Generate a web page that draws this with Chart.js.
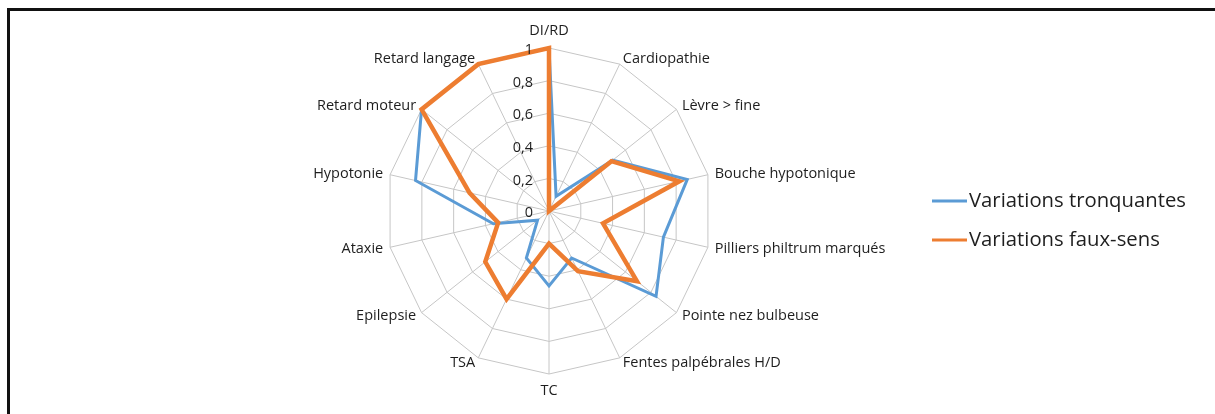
<!DOCTYPE html>
<html><head><meta charset="utf-8">
<script src="https://cdn.jsdelivr.net/npm/chart.js@4.4.0/dist/chart.umd.min.js"></script>
<style>
html,body{margin:0;padding:0;background:#fff;overflow:hidden}
#wrap{position:relative;width:1215px;height:414px}
#frame{position:absolute;left:7px;top:8px;width:1230px;height:430px;border-left:3px solid #111;border-top:3px solid #111;pointer-events:none}
canvas{display:block}
</style></head>
<body>
<div id="wrap"><canvas id="c" width="1215" height="414"></canvas><div id="frame"></div></div>
<script>
const categories = ['DI/RD','Cardiopathie','Lèvre > fine','Bouche hypotonique','Pilliers philtrum marqués','Pointe nez bulbeuse','Fentes palpébrales H/D','TC','TSA','Epilepsie','Ataxie','Hypotonie','Retard moteur','Retard langage'];
const tronquantes = [1, 0.10, 0.50, 0.87, 0.72, 0.84, 0.32, 0.46, 0.32, 0.09, 0.35, 0.84, 1, 1];
const fauxSens = [1, 0, 0.49, 0.82, 0.34, 0.69, 0.41, 0.20, 0.60, 0.50, 0.32, 0.50, 1, 1];
const tickLabels = ['0','0,2','0,4','0,6','0,8','1'];
const seriesNames = ['Variations tronquantes','Variations faux-sens'];

const FONT = '"Open Sans"';
const TEXT = '#1e1e1e';

const labelPlugin = {
  id: 'excelLabels',
  afterDraw(chart) {
    const s = chart.scales.r, ctx = chart.ctx;
    ctx.save();
    ctx.fillStyle = TEXT;
    ctx.font = '14.5px ' + FONT;
    const n = categories.length;
    categories.forEach((lab, i) => {
      const a = i * 2 * Math.PI / n;
      const sx = Math.sin(a), cy = -Math.cos(a);
      const e = s.getPointPosition(i, s.drawingArea);
      ctx.textBaseline = 'middle';
      if (i === 0 || i * 2 === n) {
        ctx.textAlign = 'center';
        ctx.fillText(lab, e.x, e.y + cy * 17);
      } else {
        ctx.textAlign = sx > 0 ? 'left' : 'right';
        ctx.fillText(lab, e.x + sx * 7, e.y + cy * 6);
      }
    });
    ctx.textAlign = 'right';
    tickLabels.forEach((t, k) => {
      const d = s.getDistanceFromCenterForValue(k * 0.2);
      ctx.fillText(t, s.xCenter - 16, s.yCenter - d + 2);
    });
    ctx.font = '20.3px ' + FONT;
    ctx.textAlign = 'left';
    chart.data.datasets.forEach((ds, j) => {
      const y = 201 + j * 39;
      ctx.strokeStyle = ds.borderColor;
      ctx.lineWidth = 3;
      ctx.beginPath(); ctx.moveTo(932, y); ctx.lineTo(967, y); ctx.stroke();
      ctx.fillText(ds.label, 969, y);
    });
    ctx.restore();
  }
};

new Chart(document.getElementById('c'), {
  type: 'radar',
  data: {
    labels: categories,
    datasets: [
      {label: seriesNames[0], data: tronquantes, borderColor: '#5B9BD5', borderWidth: 3, pointRadius: 0, fill: false, tension: 0, order: 2},
      {label: seriesNames[1], data: fauxSens, borderColor: '#ED7D31', borderWidth: 4.5, pointRadius: 0, fill: false, tension: 0, order: 1}
    ]
  },
  options: {
    responsive: false,
    animation: false,
    layout: {padding: {left: 386, right: 503, top: 48, bottom: 40}},
    plugins: {legend: {display: false}, tooltip: {enabled: false}},
    scales: {
      r: {
        min: 0, max: 1,
        ticks: {stepSize: 0.2, display: false},
        pointLabels: {display: false},
        grid: {color: '#c6c6c6', lineWidth: 1},
        angleLines: {color: '#c6c6c6', lineWidth: 1}
      }
    }
  },
  plugins: [labelPlugin]
});
</script>
</body></html>
